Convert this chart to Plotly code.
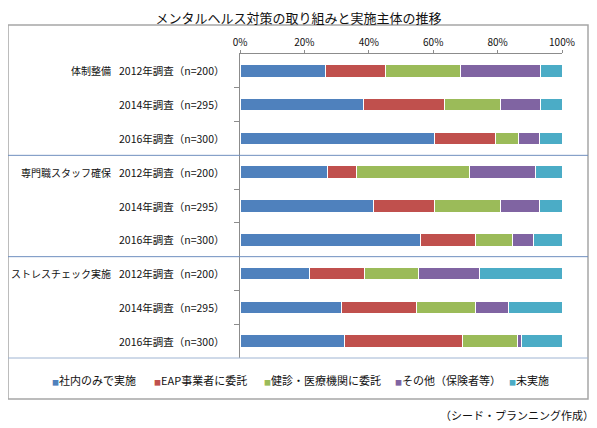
import plotly.graph_objects as go

title = "メンタルヘルス対策の取り組みと実施主体の推移"
groups = ["体制整備", "専門職スタッフ確保", "ストレスチェック実施"]
surveys = ["2012年調査（n=200）", "2014年調査（n=295）", "2016年調査（n=300）"]
series_names = ["社内のみで実施", "EAP事業者に委託", "健診・医療機関に委託", "その他（保険者等）", "未実施"]
colors = ["#4F81BD", "#C0504D", "#9BBB59", "#8064A2", "#4BACC6"]

inhouse = [26.7, 38.3, 60.3, 27.1, 41.4, 56.1, 21.7, 31.6, 32.4]
eap = [18.4, 25.1, 18.9, 9.0, 18.9, 16.9, 16.9, 23.3, 36.8]
medical = [23.3, 17.4, 7.4, 35.2, 20.5, 11.5, 16.8, 18.1, 17.1]
other = [24.9, 12.5, 6.3, 20.4, 12.2, 6.5, 18.9, 10.3, 1.1]
none_ = [6.7, 6.7, 7.1, 8.3, 7.0, 9.0, 25.7, 16.7, 12.6]
series_values = [inhouse, eap, medical, other, none_]

x_ticks = [0, 20, 40, 60, 80, 100]
source = "（シード・プランニング作成）"

FONT = "Noto Sans CJK JP, Noto Sans, sans-serif"

rows = list(range(len(groups) * len(surveys)))
row_labels = [s for g in groups for s in surveys]

fig = go.Figure()
for name, vals, col in zip(series_names, series_values, colors):
    fig.add_trace(go.Bar(
        x=vals, y=rows, orientation="h", name=name,
        marker=dict(color=col, line=dict(color="white", width=1)),
        width=0.37, showlegend=False,
        hovertemplate=name + ": %{x}%<extra></extra>",
    ))

# page body has an 8px margin; lay out in page pixels and compensate
OFF = 8
PAGE_W, PAGE_H = 597, 428
W, H = PAGE_W - OFF, PAGE_H - OFF
PLOT_L, PLOT_R, PLOT_T, PLOT_B = 240, 562, 54, 358   # page pixels
L = PLOT_L - OFF
R = W - (PLOT_R - OFF)
T = PLOT_T - OFF
B = H - (PLOT_B - OFF)
pw = PLOT_R - PLOT_L
ph = PLOT_B - PLOT_T


def px(xpage):
    return (xpage - PLOT_L) / pw


def py(ypage):
    return (PLOT_B - ypage) / ph


annotations = []
# survey labels
for r, lab in zip(rows, row_labels):
    annotations.append(dict(
        x=0, y=r, xref="x", yref="y", xshift=-(PLOT_L - 227), xanchor="right", yanchor="middle",
        text=lab, showarrow=False, font=dict(family=FONT, size=10.5, color="#111")))
# group labels
for gi, g in enumerate(groups):
    annotations.append(dict(
        x=0, y=gi * len(surveys), xref="x", yref="y", xshift=-(PLOT_L - 113), xanchor="right",
        yanchor="middle", text=g, showarrow=False,
        font=dict(family=FONT, size=10, color="#111")))
# legend as text
leg_x = [50, 152, 262, 393, 507]
for name, col, lx in zip(series_names, colors, leg_x):
    annotations.append(dict(
        x=px(lx), y=py(380), xref="paper", yref="paper", xanchor="left", yanchor="middle",
        text=f'<span style="color:{col};font-size:7px">■</span>{name}',
        showarrow=False, font=dict(family=FONT, size=11, color="#111")))
# source
annotations.append(dict(
    x=px(596), y=py(415), xref="paper", yref="paper", xanchor="right", yanchor="middle",
    text=source, showarrow=False, font=dict(family=FONT, size=11, color="#111")))

shapes = [
    # outer border
    dict(type="rect", xref="paper", yref="paper", x0=px(8), x1=px(588), y0=py(399), y1=py(25),
         line=dict(color="#a6a6a6", width=1.5), layer="below"),
    # bottom separator (legend)
    dict(type="line", xref="paper", yref="paper", x0=px(8), x1=px(588), y0=0, y1=0,
         line=dict(color="#9fb4d2", width=1)),
]
for k in range(1, len(groups)):
    yb = k * len(surveys) - 0.5
    shapes.append(dict(type="line", xref="paper", yref="y", x0=px(8), x1=px(588), y0=yb, y1=yb,
                       line=dict(color="#6f8fbf", width=1)))

inner_bounds = [r + 0.5 for r in rows[:-1] if (r + 1) % len(surveys) != 0]

fig.update_layout(
    width=W, height=H,
    margin=dict(l=L, r=R, t=T, b=B),
    barmode="stack",
    plot_bgcolor="white", paper_bgcolor="white",
    title=dict(text=title, x=px(298.5), xref="paper", xanchor="center",
               y=1 - (18 - OFF) / H, yanchor="middle",
               font=dict(family=FONT, size=13, color="#111")),
    xaxis=dict(range=[0, 100], side="top", tickvals=x_ticks,
               ticktext=[f"{v}%" for v in x_ticks], showgrid=False, zeroline=False,
               showline=True, linecolor="#8c8c8c", linewidth=1,
               ticks="outside", ticklen=3, tickcolor="#8c8c8c",
               tickfont=dict(family=FONT, size=10, color="#111"), fixedrange=True),
    yaxis=dict(range=[len(rows) - 0.5, -0.5], tickvals=inner_bounds, showticklabels=False,
               ticks="outside", ticklen=5, tickcolor="#8c8c8c", showgrid=False,
               zeroline=False, showline=True, linecolor="#8c8c8c", linewidth=1,
               fixedrange=True),
    annotations=annotations,
    shapes=shapes,
    font=dict(family=FONT),
)

fig.write_html("out.html")
